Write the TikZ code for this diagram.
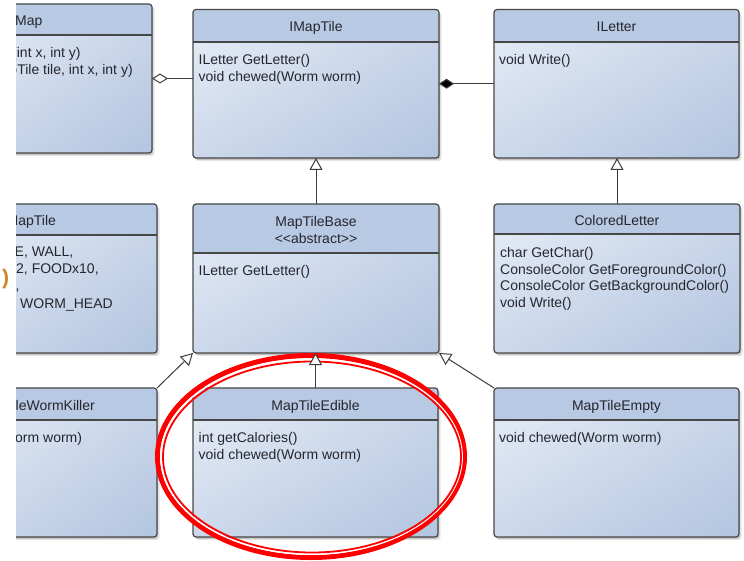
\documentclass[tikz,border=0pt]{standalone}
\usepackage{fontspec}
\newfontfamily\umlfont{Liberation Sans}
\usetikzlibrary{arrows.meta,shadings,calc}

\definecolor{boxline}{HTML}{474747}
\definecolor{hdrfill}{HTML}{B8C9E3}
\definecolor{bodyA}{HTML}{E8EEF7}
\definecolor{bodyB}{HTML}{CCD8EB}
\definecolor{bodyC}{HTML}{B3C5E0}
\definecolor{linkline}{HTML}{3C3C3C}
\definecolor{umltext}{HTML}{26262E}
\definecolor{markred}{HTML}{FF0000}
\definecolor{parenorange}{HTML}{CF8420}

\begin{document}
\begin{tikzpicture}[x=1bp, y=-1bp,
  softshadow/.style={
    preaction={fill=black, opacity=0.10, transform canvas={shift={(2.5,3.2)}}},
    preaction={fill=black, opacity=0.14, transform canvas={shift={(1.2,1.8)}}}},
  umlclass/.style={softshadow, draw=boxline, line width=1.2bp, rounded corners=3bp,
    inner sep=0pt, outer sep=0pt,
    upper left=bodyA, upper right=bodyB, lower left=bodyB, lower right=bodyC,
    path picture={
      \fill[hdrfill] (path picture bounding box.north west)
        rectangle ([yshift=-#1]path picture bounding box.north east);
      \draw[boxline, line width=1.2bp]
        ([yshift=-#1]path picture bounding box.north west) --
        ([yshift=-#1]path picture bounding box.north east);
    }},
  umlfontsize/.style={font=\umlfont\fontsize{14bp}{16.8bp}\selectfont, text=umltext, inner sep=0pt},
  hdrtext/.style={umlfontsize, text height=10bp, text depth=0pt},
  hdrtwo/.style={umlfontsize, align=center, font=\umlfont\fontsize{14bp}{17bp}\selectfont},
  bodytext/.style={umlfontsize, align=left, anchor=north west},
  linetext/.style={umlfontsize, anchor=west, text height=10bp, text depth=0pt},
  link/.style={draw=linkline, line width=1bp},
  inherit/.style={link, -{Triangle[length=12bp, width=13bp, fill=white, line width=1bp]}},
  aggregate/.style={link, {Diamond[length=16bp, width=10bp, fill=white, line width=1bp]}-},
  compose/.style={link, {Diamond[length=15bp, width=10bp, fill=black, line width=1bp]}-},
  ring/.style={draw=markred}
]
\useasboundingbox[fill=white] (0,0) rectangle (744,561);

% classes cut off by the left edge of the drawing
\begin{scope}
  \clip (16,-5) rectangle (200,570);
  \node[umlclass=31bp, minimum width=192bp, minimum height=149bp] (map) at (56,78.5) {};
  \node[umlclass=31bp, minimum width=197bp, minimum height=149bp] (enumtile) at (58.5,278.5) {};
  \node[umlclass=32bp, minimum width=197bp, minimum height=149bp] (wormkiller) at (58.5,462.5) {};

  \node[hdrtext, anchor=west] (map-name) at (15,21) {Map};
  \node[linetext] (map-op1) at (12,53) {(int x, int y)};
  \node[linetext] (map-op2) at (9.3,70) {pTile tile, int x, int y)};

  \node[hdrtext, anchor=west] (enum-name) at (6.5,221) {MapTile};
  \node[linetext] (enum-v1) at (14.5,252) {E, WALL,};
  \node[linetext] (enum-v2) at (16,269) {2, FOODx10,};
  \node[linetext] (enum-v3) at (15.5,286) {,};
  \node[linetext] (enum-v4) at (20,303) {WORM\_HEAD};

  \node[hdrtext, anchor=west] (killer-name) at (15.5,405) {leWormKiller};
  \node[linetext] (killer-op1) at (15,437) {orm worm)};
\end{scope}

\node[font=\umlfont\bfseries\fontsize{21bp}{21bp}\selectfont, text=parenorange, inner sep=0pt]
  (paren) at (5.5,279) {)};

% interfaces
\node[umlclass=32.5bp, minimum width=246bp, minimum height=148.5bp] (imaptile) at (316,83.75) {};
\node[umlclass=32.5bp, minimum width=245bp, minimum height=148.5bp] (iletter) at (616.5,83.75) {};

% middle row
\node[umlclass=49bp, minimum width=246bp, minimum height=149bp] (maptilebase) at (316,278.5) {};
\node[umlclass=30bp, minimum width=246bp, minimum height=149bp] (coloredletter) at (617,278.5) {};

% bottom row
\node[umlclass=32bp, minimum width=245bp, minimum height=149bp] (edible) at (315.5,462.5) {};
\node[umlclass=32bp, minimum width=245bp, minimum height=149bp] (empty) at (616.5,462.5) {};

% class names and members
\node[hdrtext] (imaptile-name) at ($(imaptile.north)+(0,17.5)$) {IMapTile};
\node[bodytext] (imaptile-ops) at ($(imaptile.north west)+(5.5,45)$)
  {ILetter GetLetter()\\void chewed(Worm worm)};

\node[hdrtext] (iletter-name) at ($(iletter.north)+(0,17.5)$) {ILetter};
\node[bodytext] (iletter-ops) at ($(iletter.north west)+(5,45)$) {void Write()};

\node[hdrtwo] (maptilebase-name) at ($(maptilebase.north)+(0,25.5)$)
  {MapTileBase\\<<abstract>>};
\node[bodytext] (maptilebase-ops) at ($(maptilebase.north west)+(5.5,61.5)$) {ILetter GetLetter()};

\node[hdrtext] (coloredletter-name) at ($(coloredletter.north)+(0,17)$) {ColoredLetter};
\node[bodytext] (coloredletter-ops) at ($(coloredletter.north west)+(6,43)$)
  {char GetChar()\\ConsoleColor GetForegroundColor()\\ConsoleColor GetBackgroundColor()\\void Write()};

\node[hdrtext] (edible-name) at ($(edible.north)+(0,17)$) {MapTileEdible};
\node[bodytext] (edible-ops) at ($(edible.north west)+(5.5,44.5)$)
  {int getCalories()\\void chewed(Worm worm)};

\node[hdrtext] (empty-name) at ($(empty.north)+(0,17)$) {MapTileEmpty};
\node[bodytext] (empty-ops) at ($(empty.north west)+(5,44.5)$) {void chewed(Worm worm)};

% red highlight around MapTileEdible
\draw[ring, line width=5bp] (311,456.5) ellipse [x radius=153.5, y radius=101];
\draw[white, line width=1.2bp] (311.5,456.8) ellipse [x radius=150.8, y radius=97.6];
\draw[ring, line width=1.8bp] (312,457) ellipse [x radius=149, y radius=95.5];

% relations
\draw[aggregate] (map.east) -- (map.east -| imaptile.west);
\draw[compose] (imaptile.east |- iletter.west) -- (iletter.west);
\draw[inherit] (maptilebase.north) -- (maptilebase.north |- imaptile.south);
\draw[inherit] (coloredletter.north) -- (coloredletter.north |- iletter.south);
\draw[inherit] (edible.north) -- (edible.north |- maptilebase.south);
\draw[inherit] (wormkiller.north east) -- (maptilebase.south west);
\draw[inherit] (empty.north west) -- (maptilebase.south east);
\end{tikzpicture}
\end{document}
